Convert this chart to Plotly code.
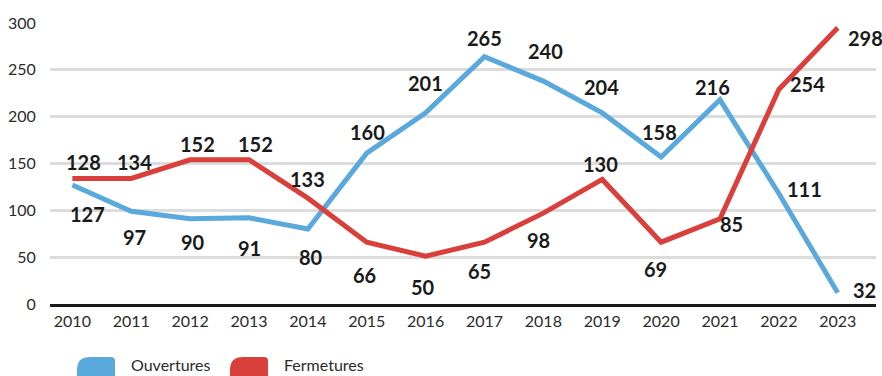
import plotly.graph_objects as go

# ---- data ----
years = ["2010", "2011", "2012", "2013", "2014", "2015", "2016", "2017",
         "2018", "2019", "2020", "2021", "2022", "2023"]
# line positions as drawn in the picture
ouvertures = [127, 99, 91, 92, 80, 161, 204, 264, 238, 204, 157, 218, 118, 12]
fermetures = [134, 134, 154, 154, 113, 66, 51, 66, 97, 133, 66, 91, 229, 295]
# values printed as labels
ouvertures_labels = [127, 97, 90, 91, 80, 160, 201, 265, 240, 204, 158, 216, 111, 32]
fermetures_labels = [128, 134, 152, 152, 133, 66, 50, 65, 98, 130, 69, 85, 254, 298]
y_ticks = [0, 50, 100, 150, 200, 250, 300]
series_names = ["Ouvertures", "Fermetures"]

# ---- style / placement ----
BLUE = "#5aa9dc"
RED = "#d9403b"
TXT = "#2b2b2b"
W, H = 882, 376
ML, MR, MT, MB = 50, 6, 23, 72

# label pixel offsets (xshift, yshift) relative to each point
ouv_off = [(15, -29), (3, -26), (3, -23), (1, -30), (3, -28), (1, 21), (0, 30),
           (0, 19), (2, 30), (-1, 26), (-2, 25), (-7, 13), (26, 4), (27, 3)]
fer_off = [(11, 16), (3, 16), (7, 16), (7, 16), (0, 19), (-2, -33), (-3, -31),
           (-5, -29), (-5, -27), (-2, 15), (-6, -27), (12, -5), (29, 6), (28, -10)]

fig = go.Figure()
fig.add_trace(go.Scatter(x=years, y=ouvertures, mode="lines", name=series_names[0],
                         line=dict(color=BLUE, width=5), showlegend=False,
                         cliponaxis=False))
fig.add_trace(go.Scatter(x=years, y=fermetures, mode="lines", name=series_names[1],
                         line=dict(color=RED, width=5), showlegend=False,
                         cliponaxis=False))

annotations = []
for vals, labs, offs in ((ouvertures, ouvertures_labels, ouv_off),
                         (fermetures, fermetures_labels, fer_off)):
    for i, (v, lab, (dx, dy)) in enumerate(zip(vals, labs, offs)):
        # category index i corresponds to years[i]
        annotations.append(dict(x=i, y=v, xref="x", yref="y", text=str(lab),
                                showarrow=False, xshift=dx, yshift=dy,
                                font=dict(family="Lato", size=20, color="#1a1a1a",
                                          weight="bold")))

pw = W - ML - MR
ph = H - MT - MB


def px(x):
    return (x - ML) / pw


def py(y):
    return (H - MB - y) / ph


def swatch(x0, x1, top, bottom, r1, r2):
    return (f"M {px(x0 + r1)},{py(top)} L {px(x1 - r2)},{py(top)} "
            f"Q {px(x1)},{py(top)} {px(x1)},{py(top + r2)} "
            f"L {px(x1)},{py(bottom)} L {px(x0)},{py(bottom)} "
            f"L {px(x0)},{py(top + r1)} Q {px(x0)},{py(top)} {px(x0 + r1)},{py(top)} Z")


shapes = [
    dict(type="path", xref="paper", yref="paper", path=swatch(77, 115, 357, 385, 13, 4),
         fillcolor=BLUE, line=dict(width=0), layer="above"),
    dict(type="path", xref="paper", yref="paper", path=swatch(230, 268, 357, 385, 13, 4),
         fillcolor=RED, line=dict(width=0), layer="above"),
]
annotations.append(dict(x=px(129), y=py(376), xref="paper", yref="paper",
                        text=series_names[0], showarrow=False, xanchor="left",
                        yanchor="bottom", font=dict(family="Lato", size=16, color=TXT)))
annotations.append(dict(x=px(282), y=py(376), xref="paper", yref="paper",
                        text=series_names[1], showarrow=False, xanchor="left",
                        yanchor="bottom", font=dict(family="Lato", size=16, color=TXT)))

fig.update_layout(
    width=W, height=H,
    margin=dict(l=ML, r=MR, t=MT, b=MB),
    paper_bgcolor="white", plot_bgcolor="white",
    font=dict(family="Lato", size=16, color=TXT),
    annotations=annotations, shapes=shapes,
    xaxis=dict(type="category", range=[-0.38, 13.65], showgrid=False,
               showline=True, linecolor="#1a1a1a", linewidth=3,
               ticks="outside", ticklen=1, tickcolor="rgba(0,0,0,0)",
               tickfont=dict(family="Lato", size=16, color=TXT)),
    yaxis=dict(range=[0, 300], tickvals=y_ticks, showgrid=True,
               gridcolor="#dcdcdc", gridwidth=3, zeroline=False,
               ticks="outside", ticklen=10, tickcolor="rgba(0,0,0,0)",
               tickfont=dict(family="Lato", size=16, color=TXT)),
)

fig.write_html("out.html")
